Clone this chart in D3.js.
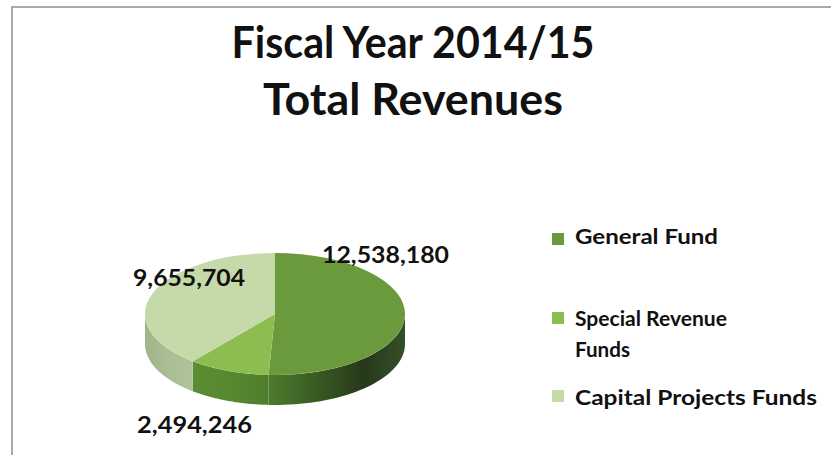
<!DOCTYPE html>
<html>
<head>
<meta charset="utf-8">
<script src="https://cdn.jsdelivr.net/npm/d3@7"></script>
<style>
  html, body { margin: 0; padding: 0; background: #fff; }
  svg { display: block; }
  text { font-family: Lato, "Open Sans", sans-serif; fill: #111; }
</style>
</head>
<body>
<svg id="chart" width="831" height="455"></svg>
<script>
// Revenue by fund type
const funds = ["General Fund", "Special Revenue Funds", "Capital Projects Funds"];
const revenues = [12538180, 2494246, 9655704];
const titleLines = ["Fiscal Year 2014/15", "Total Revenues"];
const legendLines = [["General Fund"], ["Special Revenue", "Funds"], ["Capital Projects Funds"]];

const topColors = ["#6b9a3c", "#8dbd50", "#c5d9a9"];
// wall shading, listed left to right
const sideColors = [["#4d7c2c", "#26391a", "#33502a"], ["#5c8d33", "#578830", "#4f7e2c"], ["#a2b58a", "#aabd93", "#b0c299"]];
const sideOffsets = [[0, 0.7, 1], [0, 0.5, 1], [0, 0.5, 1]];

const svg = d3.select("#chart");
const defs = svg.append("defs");

// frame
svg.append("path")
  .attr("d", "M12,455 V7 H831")
  .attr("fill", "none")
  .attr("stroke", "#a9a9a9")
  .attr("stroke-width", 2);

// title
const titleY = [58, 115];
const titleW = [363, 300];
titleLines.forEach((t, i) => {
  svg.append("text")
    .attr("x", 413).attr("y", titleY[i])
    .attr("text-anchor", "middle")
    .attr("font-size", 44).attr("font-weight", 700)
    .attr("textLength", titleW[i]).attr("lengthAdjust", "spacingAndGlyphs")
    .text(t);
});

// pseudo-3D pie
const cx = 275, cy = 314, rx = 130, ry = 61, depth = 30;
const pie = d3.pie().sort(null).value(d => d)(revenues);
const pt = (a, dy = 0) => [cx + rx * Math.sin(a), cy - ry * Math.cos(a) + dy];

function wallPath(a0, a1) {
  const n = 40, top = [], bot = [];
  for (let i = 0; i <= n; i++) {
    const a = a0 + (a1 - a0) * i / n;
    top.push(pt(a));
    bot.push(pt(a, depth));
  }
  return d3.line()(top.concat(bot.reverse())) + "Z";
}

// outer walls on the front half of the disc
pie.forEach((s, i) => {
  const a0 = Math.max(s.startAngle, Math.PI / 2);
  const a1 = Math.min(s.endAngle, 3 * Math.PI / 2);
  if (a1 <= a0) return;
  const x0 = pt(a0)[0], x1 = pt(a1)[0];
  const g = defs.append("linearGradient")
    .attr("id", "side" + i)
    .attr("gradientUnits", "userSpaceOnUse")
    .attr("x1", Math.min(x0, x1)).attr("x2", Math.max(x0, x1))
    .attr("y1", 0).attr("y2", 0);
  sideColors[i].forEach((c, k) =>
    g.append("stop").attr("offset", sideOffsets[i][k]).attr("stop-color", c));
  svg.append("path")
    .attr("d", wallPath(a0, a1))
    .attr("fill", `url(#side${i})`);
});

// top face: circular arcs squashed into an ellipse
const arc = d3.arc().innerRadius(0).outerRadius(rx);
const topG = svg.append("g")
  .attr("transform", `translate(${cx},${cy}) scale(1,${ry / rx})`);
topG.selectAll("path").data(pie).join("path")
  .attr("d", arc)
  .attr("fill", (d, i) => topColors[i]);

// value labels
const fmt = d3.format(",");
const labelPos = [[322, 263, 127], [137, 433, 115], [133, 286, 112]];
pie.forEach((s, i) => {
  svg.append("text")
    .attr("x", labelPos[i][0]).attr("y", labelPos[i][1])
    .attr("font-size", 23).attr("font-weight", 700)
    .attr("textLength", labelPos[i][2]).attr("lengthAdjust", "spacingAndGlyphs")
    .text(fmt(revenues[i]));
});

// legend
const legendSq = [233, 312, 390];
const legendBase = [[244], [326, 357], [405]];
const legendW = [[143], [152, 55], [242]];
funds.forEach((f, i) => {
  svg.append("rect")
    .attr("x", 552).attr("y", legendSq[i])
    .attr("width", 12).attr("height", 12)
    .attr("fill", topColors[i]);
  legendLines[i].forEach((line, k) => {
    svg.append("text")
      .attr("x", 575).attr("y", legendBase[i][k])
      .attr("font-size", 20).attr("font-weight", 700)
      .attr("textLength", legendW[i][k]).attr("lengthAdjust", "spacingAndGlyphs")
      .text(line);
  });
});
</script>
</body>
</html>
